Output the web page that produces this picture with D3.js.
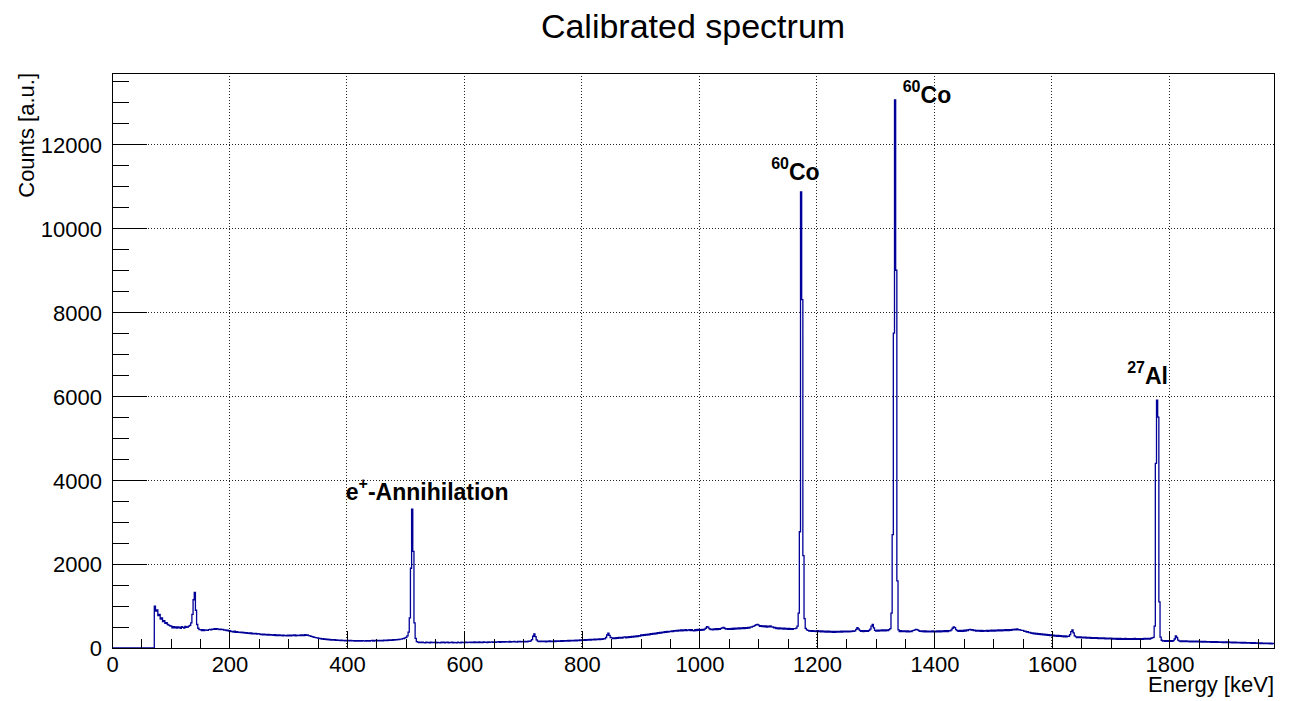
<!DOCTYPE html>
<html>
<head>
<meta charset="utf-8">
<script src="https://cdn.jsdelivr.net/npm/d3@7"></script>
<style>
  body { margin: 0; background: #fff; }
  svg { display: block; }
  text { font-family: "Liberation Sans", Arial, Helvetica, sans-serif; }
</style>
</head>
<body>
<svg id="chart" width="1292" height="701"></svg>
<script>
// Histogram: 2 keV bins starting at 0 keV, counts per bin
const binWidth = 2;
const counts = [
  0,0,0,0,0,0,0,0,0,0,0,0,0,0,0,0,0,0,0,0,0,0,0,0,0,
  0,0,0,0,0,0,0,0,0,0,0,1000,880,905,770,800,690,715,630,650,590,605,560,545,530,
  520,482,510,478,505,472,500,488,470,506,490,476,512,494,500,520,540,600,800,1150,1325,900,560,470,440,
  440,415,438,412,432,425,418,440,446,430,452,444,462,446,464,448,440,448,436,442,425,432,414,424,405,
  412,388,398,380,400,374,390,370,380,366,375,358,374,354,364,350,360,342,358,338,350,336,346,330,342,
  336,320,331,316,328,312,326,308,322,306,316,310,300,318,298,312,296,310,294,308,292,306,296,290,304,
  292,308,290,304,294,310,292,306,298,294,312,296,314,298,316,300,310,296,290,280,272,262,254,246,240,
  238,222,230,214,220,206,214,200,208,194,202,190,198,186,196,182,192,180,190,178,186,175,184,172,182,
  170,182,168,180,171,178,164,178,166,176,162,178,165,175,168,162,177,164,178,163,174,180,166,181,170,
  180,168,182,170,184,172,188,174,190,178,192,180,195,184,198,188,200,193,204,198,210,212,222,226,240,
  252,290,380,720,1900,3310,2300,600,230,150,142,130,141,127,139,130,125,140,128,136,124,138,127,135,126,
  138,125,136,127,122,137,126,140,124,133,138,123,135,128,141,124,136,127,122,139,130,125,140,126,134,
  126,140,128,136,142,127,138,130,143,129,140,126,144,131,139,128,145,133,141,130,147,134,139,146,132,
  148,136,146,139,152,137,149,141,153,138,151,145,140,155,142,153,144,157,146,141,156,148,159,145,154,
  160,146,158,148,161,159,168,200,280,335,270,195,166,152,163,150,162,151,166,149,164,152,167,150,165,
  153,168,155,170,157,172,158,174,160,176,162,178,164,180,166,182,168,184,171,187,173,189,175,191,178,
  194,180,197,183,200,186,203,190,207,193,210,196,213,199,216,202,219,206,222,218,250,310,355,300,250,
  240,222,242,225,246,229,250,233,254,237,258,262,244,266,250,270,256,276,262,282,268,288,274,296,284,
  310,294,318,300,326,308,332,316,340,324,348,332,356,340,364,348,372,356,380,364,388,372,396,380,398,
  388,410,392,416,400,420,404,428,406,430,410,434,412,436,414,426,438,412,440,416,410,436,414,442,418,
  440,418,446,424,450,470,510,495,462,438,452,432,458,436,460,438,462,444,466,478,490,470,450,464,446,
  462,442,466,446,470,450,474,454,476,458,480,460,482,464,486,468,490,476,496,500,514,520,538,555,563,
  545,515,530,508,528,504,524,500,522,506,528,505,500,480,488,464,480,458,476,454,472,452,470,450,468,
  446,466,444,464,442,460,462,475,520,830,2770,10865,8300,2200,700,468,430,420,402,416,396,412,394,410,392,
  412,388,408,384,406,382,404,380,402,378,400,376,398,375,396,374,396,376,398,378,400,380,402,382,404,
  384,402,386,404,388,406,398,410,445,484,455,420,394,412,392,414,396,416,398,418,450,520,563,480,420,
  402,426,404,428,406,430,408,432,410,434,412,436,460,830,2700,7500,13060,9000,1600,430,392,412,390,410,388,
  408,386,406,384,404,390,412,418,432,444,438,420,396,410,388,408,386,406,384,404,382,402,386,406,384,
  404,382,406,384,408,386,410,388,412,390,414,392,416,410,430,470,500,485,440,412,394,420,396,422,398,
  424,404,432,414,440,446,428,436,414,424,402,422,400,420,398,418,396,416,400,420,398,422,400,424,402,
  426,404,428,406,430,408,432,410,434,412,436,414,438,416,440,418,442,430,452,432,454,434,440,426,418,
  420,396,404,380,388,364,372,350,360,340,352,332,346,326,340,318,334,312,328,306,322,300,316,296,310,
  288,306,284,302,280,298,276,294,272,290,268,286,264,282,280,320,390,429,360,290,266,250,266,246,262,
  244,258,240,256,238,252,234,250,232,248,230,246,228,244,226,242,224,240,222,238,220,236,218,234,216,
  232,212,230,210,228,208,226,206,226,204,224,206,226,204,222,206,224,204,222,206,226,208,224,206,222,
  206,224,208,226,210,228,212,230,214,232,240,255,520,4400,5905,5500,1100,260,185,162,176,158,174,160,176,
  156,174,158,178,215,290,250,190,172,154,170,152,168,150,168,150,166,148,166,148,164,146,164,146,162,
  144,160,142,158,140,156,138,154,138,154,136,152,136,152,134,150,132,148,132,148,130,146,128,144,128,
  144,126,142,124,140,122,138,120,136,120,134,118,134,116,132,116,130,114,128,112,128,112,126,110,124,
  108,122,106,120,104,118,104,116,102,116,100,114,100,112
];

// Axis ranges and ticks
const energyRange = [0, 1978];
const countRange = [0, 13700];
const xMajorTicks = [0, 200, 400, 600, 800, 1000, 1200, 1400, 1600, 1800];
const yMajorTicks = [0, 2000, 4000, 6000, 8000, 10000, 12000];
const xMinorStep = 50;
const yMinorStep = 500;

// Peak annotations (anchor in energy / counts)
const peakLabels = [
  { energy: 398, counts: 3520, parts: [{ t: "e" }, { t: "+", sup: true }, { t: "-Annihilation" }] },
  { energy: 1122, counts: 11150, parts: [{ t: "60", sup: true }, { t: "Co" }] },
  { energy: 1346, counts: 12990, parts: [{ t: "60", sup: true }, { t: "Co" }] },
  { energy: 1728, counts: 6300, parts: [{ t: "27", sup: true }, { t: "Al" }] }
];

const svg = d3.select("#chart");
const W = 1292, H = 701;
const m = { left: 112, right: 18, top: 73, bottom: 53 };
const pw = W - m.left - m.right, ph = H - m.top - m.bottom;

const x = d3.scaleLinear().domain(energyRange).range([m.left, m.left + pw]);
const y = d3.scaleLinear().domain(countRange).range([m.top + ph, m.top]);

svg.append("rect").attr("width", W).attr("height", H).attr("fill", "#fff");

// Title
svg.append("text")
  .attr("x", m.left + pw / 2).attr("y", 38)
  .attr("text-anchor", "middle").attr("font-size", 34)
  .text("Calibrated spectrum");

// Grid (dotted)
const grid = svg.append("g").attr("stroke", "#222").attr("stroke-dasharray", "1,2")
  .attr("shape-rendering", "crispEdges").attr("stroke-width", 1);
grid.selectAll("line.gx").data(xMajorTicks.filter(d => d > 0)).join("line")
  .attr("class", "gx")
  .attr("x1", d => x(d)).attr("x2", d => x(d))
  .attr("y1", m.top).attr("y2", m.top + ph);
grid.selectAll("line.gy").data(yMajorTicks.filter(d => d > 0)).join("line")
  .attr("class", "gy")
  .attr("x1", m.left).attr("x2", m.left + pw)
  .attr("y1", d => y(d)).attr("y2", d => y(d));

// Histogram line
svg.append("clipPath").attr("id", "plot-clip")
  .append("rect").attr("x", m.left).attr("y", m.top).attr("width", pw).attr("height", ph);

const pts = counts.map((c, i) => [i * binWidth, c]);
pts.push([counts.length * binWidth, counts[counts.length - 1]]);
const line = d3.line().x(d => x(d[0])).y(d => y(d[1])).curve(d3.curveStepAfter);
svg.append("path")
  .attr("clip-path", "url(#plot-clip)")
  .attr("d", line(pts))
  .attr("fill", "none")
  .attr("stroke", "#000099")
  .attr("stroke-width", 1.3);

// Axes
function styleAxis(g) {
  g.select(".domain").remove();
  g.attr("font-size", 22).attr("font-family", '"Liberation Sans", Arial, Helvetica, sans-serif');
  g.selectAll("line").attr("stroke", "#000").attr("shape-rendering", "crispEdges");
  g.selectAll("text").attr("fill", "#000");
}

const xMinor = d3.range(0, energyRange[1], xMinorStep).filter(d => !xMajorTicks.includes(d));
const yMinor = d3.range(0, countRange[1], yMinorStep).filter(d => !yMajorTicks.includes(d));

svg.append("g").attr("transform", `translate(0,${m.top + ph})`)
  .call(d3.axisBottom(x).tickValues(xMinor).tickSize(-9).tickFormat(""))
  .call(styleAxis);
svg.append("g").attr("transform", `translate(0,${m.top + ph})`)
  .call(d3.axisBottom(x).tickValues(xMajorTicks).tickSize(-17).tickPadding(8).tickFormat(d3.format("d")))
  .call(styleAxis);

svg.append("g").attr("transform", `translate(${m.left},0)`)
  .call(d3.axisLeft(y).tickValues(yMinor).tickSize(-17).tickFormat(""))
  .call(styleAxis);
svg.append("g").attr("transform", `translate(${m.left},0)`)
  .call(d3.axisLeft(y).tickValues(yMajorTicks).tickSize(-35).tickPadding(10).tickFormat(d3.format("d")))
  .call(styleAxis)
  .selectAll("text").attr("dy", "0.36em");

// Frame
svg.append("rect")
  .attr("x", m.left).attr("y", m.top).attr("width", pw).attr("height", ph)
  .attr("fill", "none").attr("stroke", "#000").attr("stroke-width", 1)
  .attr("shape-rendering", "crispEdges");

// Axis titles
svg.append("text")
  .attr("x", m.left + pw).attr("y", 692)
  .attr("text-anchor", "end").attr("font-size", 22)
  .text("Energy [keV]");
svg.append("text")
  .attr("transform", `translate(34,${m.top}) rotate(-90)`)
  .attr("text-anchor", "end").attr("font-size", 22)
  .text("Counts [a.u.]");

// Peak annotations
peakLabels.forEach(a => {
  const t = svg.append("text")
    .attr("x", x(a.energy)).attr("y", y(a.counts))
    .attr("font-weight", "bold").attr("font-size", 23).attr("fill", "#000");
  let cur = 0;
  a.parts.forEach(p => {
    const target = p.sup ? -11 : 0;
    const ts = t.append("tspan").text(p.t).attr("dy", target - cur);
    if (p.sup) ts.attr("font-size", 16);
    cur = target;
  });
});
</script>
</body>
</html>
